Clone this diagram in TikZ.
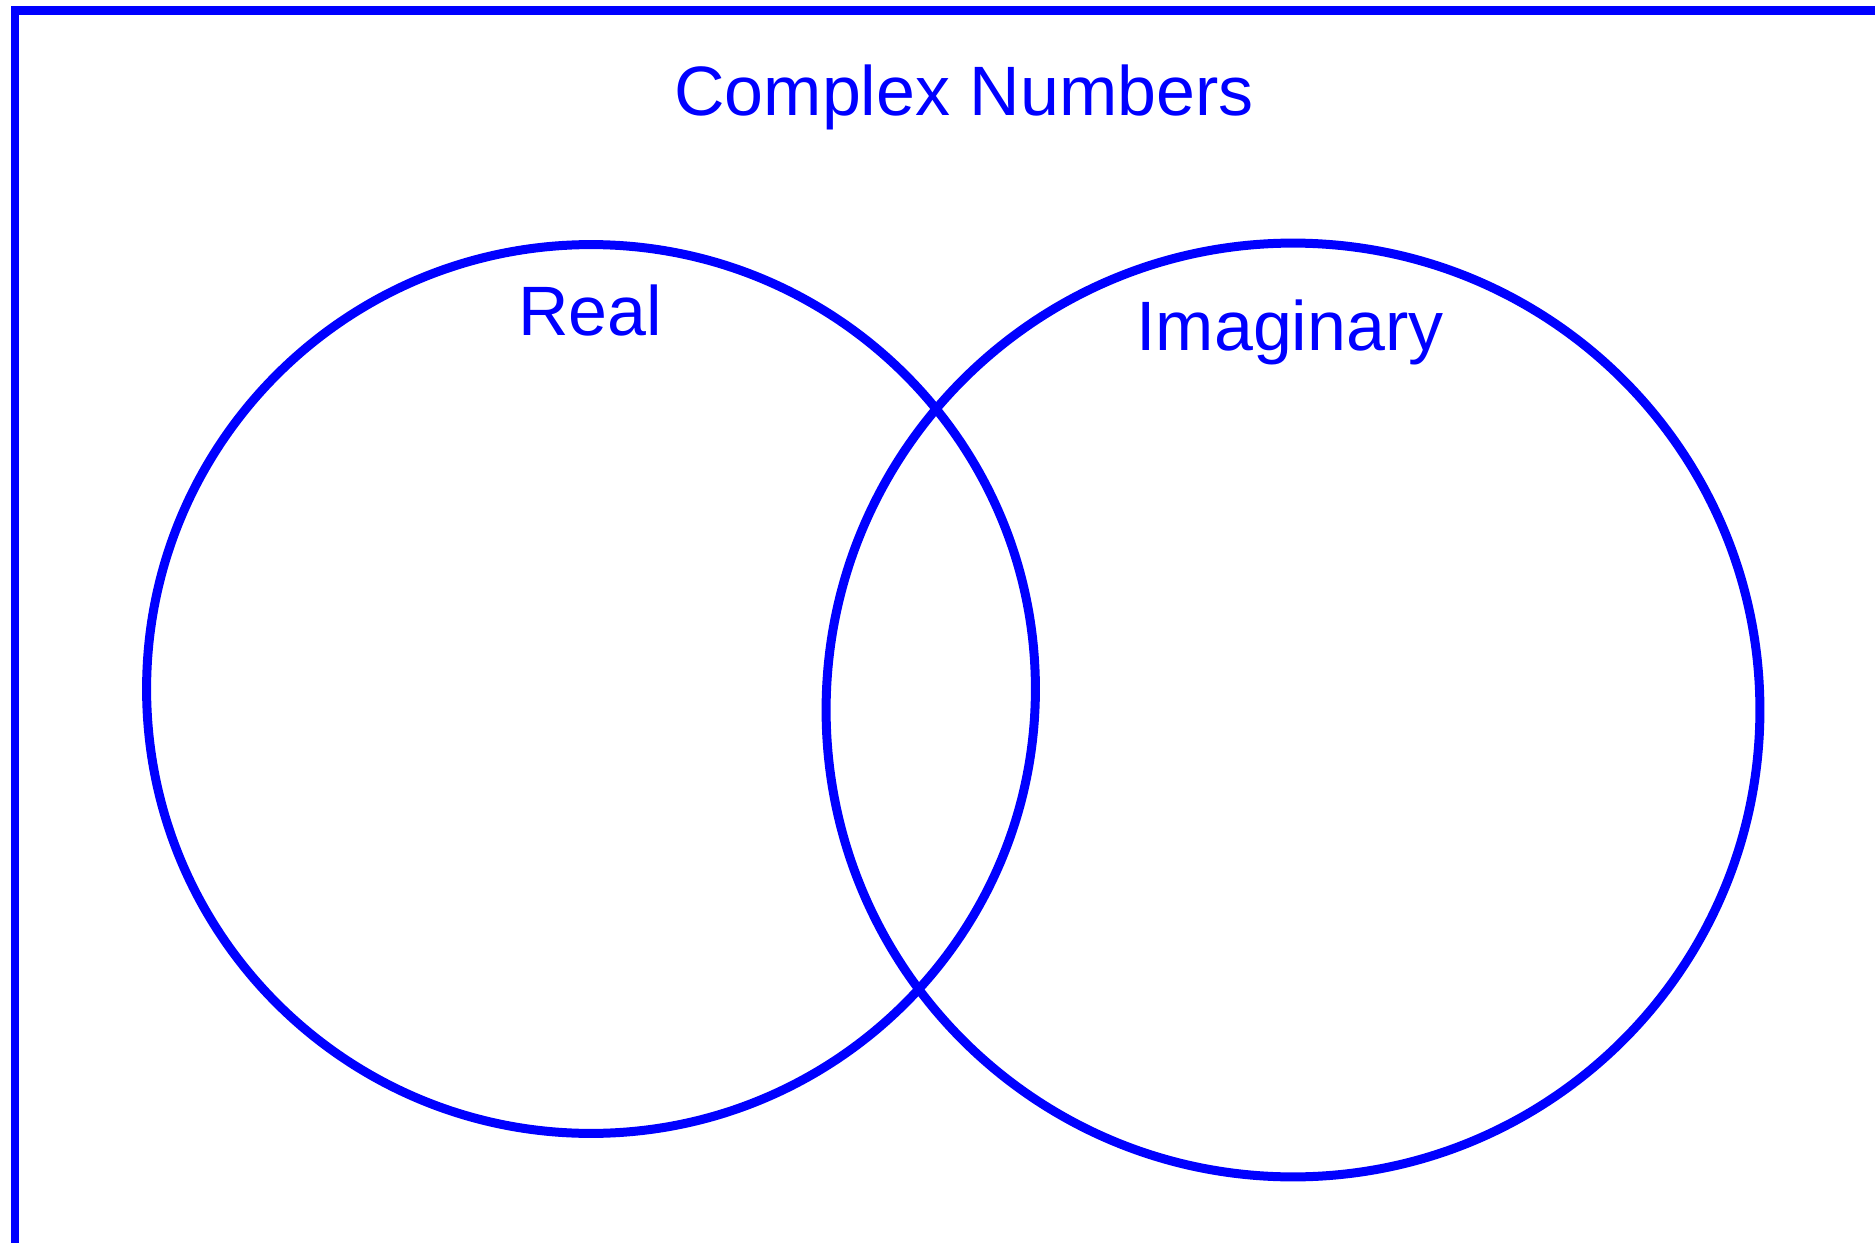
\documentclass[tikz,border=0pt]{standalone}
\usepackage{fontspec}
\setmainfont{Liberation Sans}
\definecolor{vblue}{RGB}{0,0,255}
\begin{document}
\begin{tikzpicture}[x=0.02cm,y=-0.02cm,
  setline/.style={draw=vblue,line width=0.18cm},
  setcircle/.style={setline,circle,inner sep=0pt,outer sep=0pt},
  lbl/.style={text=vblue,anchor=base,inner sep=0pt,font=\fontsize{39.8pt}{48pt}\selectfont}]
\clip (0,0) rectangle (1875,1243);
\useasboundingbox (0,0) rectangle (1875,1243);
\draw[draw=vblue,line width=0.17cm] (15,1248) -- (15,10.5) -- (1900,10.5);
\node[setcircle,minimum size=17.78cm] (realset) at (591,689) {};
\node[setcircle,minimum size=18.68cm] (imagset) at (1293,710) {};
\node[lbl] (title) at (964,116) {Complex Numbers};
\node[lbl] (real) at (590,336) {Real};
\node[lbl] (imag) at (1290,350.5) {Imaginary};
\end{tikzpicture}
\end{document}
